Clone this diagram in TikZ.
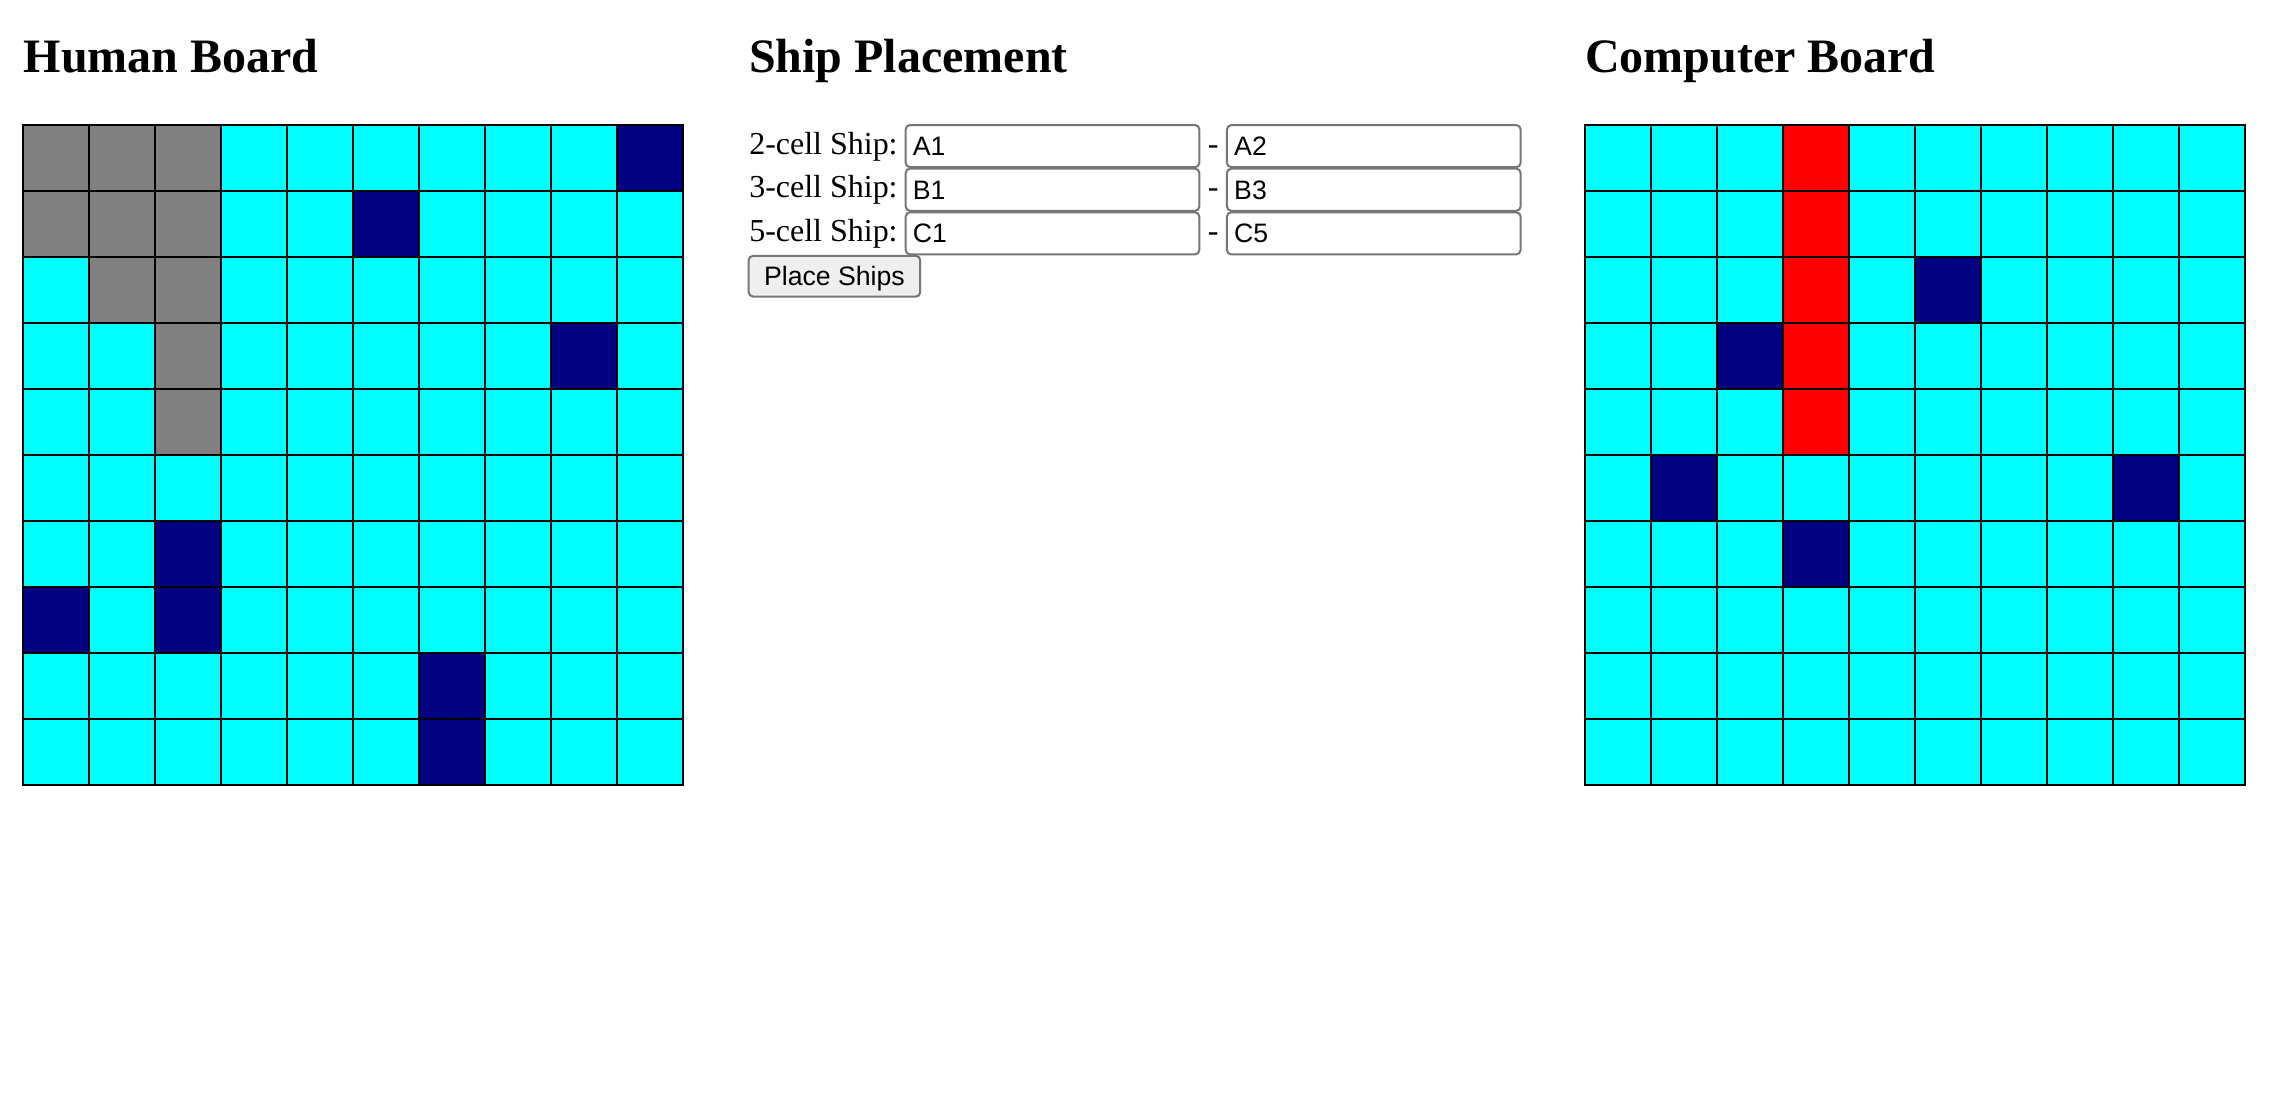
\documentclass[tikz,border=0pt]{standalone}
\usepackage{fontspec}
\setmainfont{Liberation Serif}
\newfontfamily\uifont{Liberation Sans}
\usepackage{tikz}
\usetikzlibrary{positioning}
\definecolor{W}{HTML}{00FFFF}
\definecolor{S}{HTML}{808080}
\definecolor{M}{HTML}{000080}
\definecolor{H}{HTML}{FF0000}
\definecolor{fieldgray}{HTML}{767676}
\definecolor{btngray}{HTML}{EFEFEF}
\tikzstyle{cell} = [rectangle, draw=black, line width=0.7pt, minimum size=22.7pt, inner sep=0pt]
\tikzstyle{heading} = [anchor=base west, inner sep=0pt, font=\bfseries\fontsize{16.5pt}{20pt}\selectfont]
\tikzstyle{lbl} = [anchor=base west, inner sep=0pt, font=\fontsize{11pt}{13pt}\selectfont]
\tikzstyle{field} = [rectangle, draw=fieldgray, line width=0.7pt, rounded corners=1.5pt, minimum height=14.5pt, text width=96pt, inner xsep=2.5pt, align=left, text height=6.6pt, text depth=0pt, font=\uifont\fontsize{9.17pt}{11pt}\selectfont]
\tikzstyle{btn} = [rectangle, draw=fieldgray, fill=btngray, line width=0.7pt, rounded corners=1.5pt, minimum width=59pt, minimum height=14pt, text height=6.6pt, text depth=0pt, font=\uifont\fontsize{9.17pt}{11pt}\selectfont]

\begin{document}
\begin{tikzpicture}[x=0.5pt, y=-0.5pt]
\useasboundingbox (0,0) rectangle (1567,762);

\node [heading] (hhead) at (16,50) {Human Board};
\node [heading] (shead) at (515,50) {Ship Placement};
\node [heading] (chead) at (1090,50) {Computer Board};

% human board
\foreach \row [count=\r from 0] in {{S,S,S,W,W,W,W,W,W,M},{S,S,S,W,W,M,W,W,W,W},{W,S,S,W,W,W,W,W,W,W},{W,W,S,W,W,W,W,W,M,W},{W,W,S,W,W,W,W,W,W,W},{W,W,W,W,W,W,W,W,W,W},{W,W,M,W,W,W,W,W,W,W},{M,W,M,W,W,W,W,W,W,W},{W,W,W,W,W,W,M,W,W,W},{W,W,W,W,W,W,M,W,W,W}}
  \foreach \col [count=\c from 0] in \row
    \node [cell, fill=\col] (h\r\c) at ({38.7+45.4*\c},{108.7+45.4*\r}) {};

% computer board
\foreach \row [count=\r from 0] in {{W,W,W,H,W,W,W,W,W,W},{W,W,W,H,W,W,W,W,W,W},{W,W,W,H,W,M,W,W,W,W},{W,W,M,H,W,W,W,W,W,W},{W,W,W,H,W,W,W,W,W,W},{W,M,W,W,W,W,W,W,M,W},{W,W,W,M,W,W,W,W,W,W},{W,W,W,W,W,W,W,W,W,W},{W,W,W,W,W,W,W,W,W,W},{W,W,W,W,W,W,W,W,W,W}}
  \foreach \col [count=\c from 0] in \row
    \node [cell, fill=\col] (c\r\c) at ({1112.7+45.4*\c},{108.7+45.4*\r}) {};

% ship placement form
\node [lbl] (l2) at (515,106) {2-cell Ship:};
\node [lbl] (l3) at (515,136) {3-cell Ship:};
\node [lbl] (l5) at (515,166) {5-cell Ship:};

\node [field] (f2a) at (724,100.5) {A1};
\node [field] (f2b) at (945,100.5) {A2};
\node [field] (f3a) at (724,130.5) {B1};
\node [field] (f3b) at (945,130.5) {B3};
\node [field] (f5a) at (724,160.5) {C1};
\node [field] (f5b) at (945,160.5) {C5};

\node [lbl, anchor=base] (d2) at (834.5,106) {-};
\node [lbl, anchor=base] (d3) at (834.5,136) {-};
\node [lbl, anchor=base] (d5) at (834.5,166) {-};

\node [btn] (place) at (574,190) {Place Ships};
\end{tikzpicture}
\end{document}
